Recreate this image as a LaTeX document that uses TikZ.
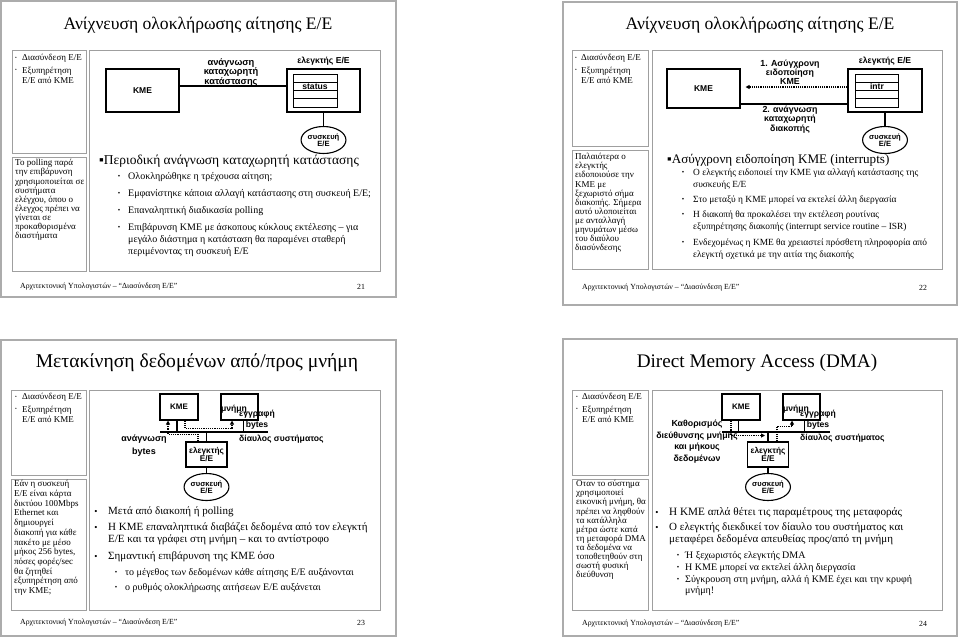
\documentclass[tikz,border=0pt]{standalone}
\usepackage{fontspec}
\setmainfont{Liberation Serif}
\setsansfont{Liberation Sans}
\usetikzlibrary{shapes.geometric,arrows.meta}

\begin{document}
\begin{tikzpicture}[x=1pt, y=-1pt,
    slide/.style={draw=gray!65, line width=1.2pt},
    panel/.style={draw=gray!75, line width=0.8pt},
    ttl/.style={inner sep=0pt, font=\fontsize{17.6}{20}\selectfont},
    unit/.style={draw, line width=1.1pt, inner sep=0pt, font=\sffamily\bfseries\fontsize{8.5}{8.5}\selectfont},
    dev/.style={ellipse, draw, line width=1.1pt, minimum width=39pt, minimum height=27pt, inner sep=0pt, align=center, font=\sffamily\bfseries\fontsize{7.6}{7.4}\selectfont},
    lbl/.style={inner sep=0pt, align=center, font=\sffamily\bfseries\fontsize{8.6}{8}\selectfont},
    reg/.style={line width=0.8pt},
    wire/.style={line width=1.1pt},
    bus/.style={line width=1.6pt},
    dotwire/.style={densely dotted, line width=1.2pt, -{Triangle[length=4pt,width=4pt]}},
    side/.style={anchor=west, align=left, inner sep=0pt, font=\fontsize{9}{9.1}\selectfont},
    txt/.style={anchor=west, align=left, inner sep=0pt},
    bul/.style={inner sep=0pt, font=\fontsize{7}{7}\selectfont},
    foot/.style={anchor=west, inner sep=0pt, font=\fontsize{7.8}{9}\selectfont}]
  \useasboundingbox (0,0) rectangle (960,638);

  % slide 21
  \draw[slide] (1,1) rectangle (396,297);
  \node[ttl] (t1) at (198,25) {Ανίχνευση ολοκλήρωσης αίτησης Ε/Ε};
  \draw[panel] (12,50) rectangle (86,153);
  \draw[panel] (12,157) rectangle (86,271);
  \draw[panel] (89,50) rectangle (380,271);
  \foreach \y [count=\i] in {58,70} \node[bul, font=\fontsize{5}{5}\selectfont] (l1-\i) at (16,\y) {•};
  \node[side] (l1a) at (22,58) {Διασύνδεση Ε/Ε};
  \node[side, font=\fontsize{9}{10}\selectfont] (l1b) at (22,75) {Εξυπηρέτηση\\Ε/Ε από ΚΜΕ};
  \node[side] (n1) at (15,200) {Το polling παρά\\την επιβάρυνση\\χρησιμοποιείται σε\\συστήματα\\ελέγχου, όπου ο\\έλεγχος πρέπει να\\γίνεται σε\\προκαθορισμένα\\διαστήματα};

  \node[unit, minimum width=73pt, minimum height=43pt] (kme1) at (142.5,90.5) {ΚΜΕ};
  \node[unit, minimum width=73pt, minimum height=43pt] (ctl1) at (323.5,90.5) {};
  \node[lbl, anchor=south] (ctl1t) at ([yshift=3pt]ctl1.north) {ελεγκτής Ε/Ε};
  \draw[reg] (293,74) rectangle (337,107);
  \foreach \y in {82.25,90.5,98.75} \draw[reg] (293,\y) -- (337,\y);
  \node[lbl] (st1) at (315,86.4) {status};
  \draw[wire] ([yshift=4.5pt]kme1.east) -- ([yshift=4.5pt]kme1.east -| ctl1.west);
  \node[lbl, font=\sffamily\bfseries\fontsize{9.3}{8.4}\selectfont] (rd1) at (231,72.5) {ανάγνωση\\καταχωρητή\\κατάστασης};
  \node[dev] (dv1) at (323.5,140) {συσκευή\\Ε/Ε};
  \draw[wire] (ctl1.south) -- (dv1.north);

  \node[txt, font=\fontsize{13.5}{16}\selectfont] (h1) at (99,161) {▪Περιοδική ανάγνωση καταχωρητή κατάστασης};
  \foreach \y [count=\i] in {177,194,211,228} \node[bul] (b1-\i) at (119,\y) {•};
  \node[txt, font=\fontsize{10}{12}\selectfont] (i1-1) at (128,177) {Ολοκληρώθηκε η τρέχουσα αίτηση;};
  \node[txt, font=\fontsize{10}{12}\selectfont] (i1-2) at (128,194) {Εμφανίστηκε κάποια αλλαγή κατάστασης στη συσκευή Ε/Ε;};
  \node[txt, font=\fontsize{10}{12}\selectfont] (i1-3) at (128,211) {Επαναληπτική διαδικασία polling};
  \node[txt, font=\fontsize{10}{12}\selectfont] (i1-4) at (128,240) {Επιβάρυνση ΚΜΕ με άσκοπους κύκλους εκτέλεσης – για\\μεγάλο διάστημα η κατάσταση θα παραμένει σταθερή\\περιμένοντας τη συσκευή Ε/Ε};
  \node[foot] (f1) at (20,287) {Αρχιτεκτονική Υπολογιστών – “Διασύνδεση Ε/Ε”};
  \node[foot, anchor=center] (p1) at (361,287) {21};

  % slide 22
  \draw[slide] (563,2) rectangle (957,305);
  \node[ttl] (t2) at (760,25) {Ανίχνευση ολοκλήρωσης αίτησης Ε/Ε};
  \draw[panel] (572,50) rectangle (648,146);
  \draw[panel] (572,150) rectangle (648,269);
  \draw[panel] (652,50) rectangle (942,269);
  \foreach \y [count=\i] in {58,70} \node[bul, font=\fontsize{5}{5}\selectfont] (l2-\i) at (576,\y) {•};
  \node[side] (l2a) at (581,58) {Διασύνδεση Ε/Ε};
  \node[side, font=\fontsize{9}{10}\selectfont] (l2b) at (581,75) {Εξυπηρέτηση\\Ε/Ε από ΚΜΕ};
  \node[side] (n2) at (575,203) {Παλαιότερα ο\\ελεγκτής\\ειδοποιούσε την\\ΚΜΕ με\\ξεχωριστό σήμα\\διακοπής. Σήμερα\\αυτό υλοποιείται\\με ανταλλαγή\\μηνυμάτων μέσω\\του διαύλου\\διασύνδεσης};

  \node[unit, minimum width=73pt, minimum height=39pt] (kme2) at (703.5,88.5) {ΚΜΕ};
  \node[unit, minimum width=74pt, minimum height=43pt] (ctl2) at (885,90.5) {};
  \node[lbl, anchor=south] (ctl2t) at ([yshift=3pt]ctl2.north) {ελεγκτής Ε/Ε};
  \draw[reg] (855,74) rectangle (898,107);
  \foreach \y in {82.25,90.5,98.75} \draw[reg] (855,\y) -- (898,\y);
  \node[lbl] (st2) at (877,86.4) {intr};
  \draw[dotwire] ([yshift=3.5pt]ctl2.west) -- ([yshift=3.5pt, xshift=5pt]ctl2.west -| kme2.east);
  \draw[wire] ([yshift=-15.5pt]kme2.east) -- ([yshift=-15.5pt]kme2.east -| ctl2.west);
  \node[lbl, font=\sffamily\bfseries\fontsize{8.8}{7.8}\selectfont] (in2) at (790,72.5) {1. Ασύγχρονη\\ειδοποίηση\\ΚΜΕ};
  \node[lbl, font=\sffamily\bfseries\fontsize{8.8}{7.8}\selectfont] (rd2) at (790,119.5) {2. ανάγνωση\\καταχωρητή\\διακοπής};
  \node[dev] (dv2) at (885,140) {συσκευή\\Ε/Ε};
  \draw[wire] (ctl2.south) -- (dv2.north);

  \node[txt, font=\fontsize{13.1}{16}\selectfont] (h2) at (667,160) {▪Ασύγχρονη ειδοποίηση ΚΜΕ (interrupts)};
  \foreach \y [count=\i] in {173,200,215,243} \node[bul] (b2-\i) at (683,\y) {•};
  \node[txt, font=\fontsize{9.4}{12}\selectfont] (i2-1) at (693,179) {Ο ελεγκτής ειδοποιεί την ΚΜΕ για αλλαγή κατάστασης της\\συσκευής Ε/Ε};
  \node[txt, font=\fontsize{9.4}{12}\selectfont] (i2-2) at (693,200) {Στο μεταξύ η ΚΜΕ μπορεί να εκτελεί άλλη διεργασία};
  \node[txt, font=\fontsize{9.4}{12}\selectfont] (i2-3) at (693,221) {Η διακοπή θα προκαλέσει την εκτέλεση ρουτίνας\\εξυπηρέτησης διακοπής (interrupt service routine – ISR)};
  \node[txt, font=\fontsize{9.4}{12}\selectfont] (i2-4) at (693,249) {Ενδεχομένως η ΚΜΕ θα χρειαστεί πρόσθετη πληροφορία από\\ελεγκτή σχετικά με την αιτία της διακοπής};
  \node[foot] (f2) at (582,288) {Αρχιτεκτονική Υπολογιστών – “Διασύνδεση Ε/Ε”};
  \node[foot, anchor=center] (p2) at (923,288) {22};

  % slide 23
  \draw[slide] (1,340) rectangle (396,636);
  \node[ttl, font=\fontsize{19.6}{22}\selectfont] (t3) at (197,363) {Μετακίνηση δεδομένων από/προς μνήμη};
  \draw[panel] (11,390) rectangle (86,475);
  \draw[panel] (11,479) rectangle (86,610);
  \draw[panel] (89,390) rectangle (380,610);
  \foreach \y [count=\i] in {397,409} \node[bul, font=\fontsize{5}{5}\selectfont] (l3-\i) at (16,\y) {•};
  \node[side] (l3a) at (22,397) {Διασύνδεση Ε/Ε};
  \node[side, font=\fontsize{9}{10}\selectfont] (l3b) at (22,414) {Εξυπηρέτηση\\Ε/Ε από ΚΜΕ};
  \node[side, font=\fontsize{9}{9.7}\selectfont] (n3) at (14,538) {Εάν η συσκευή\\Ε/Ε είναι κάρτα\\δικτύου 100Mbps\\Ethernet και\\δημιουργεί\\διακοπή για κάθε\\πακέτο με μέσο\\μήκος 256 bytes,\\πόσες φορές/sec\\θα ζητηθεί\\εξυπηρέτηση από\\την ΚΜΕ;};

  \node[unit, minimum width=38pt, minimum height=26pt, font=\sffamily\bfseries\fontsize{8}{8}\selectfont] (kme3) at (179,407) {ΚΜΕ};
  \node[unit, minimum width=37pt, minimum height=26pt] (mem3) at (239.5,407) {};
  \node[lbl] (mt3) at (234,409) {μνήμη};
  \node[unit, minimum width=41pt, minimum height=25pt, align=center, font=\sffamily\bfseries\fontsize{8.3}{8}\selectfont] (ctl3) at (206.5,454.5) {ελεγκτής\\Ε/Ε};
  \node[dev] (dv3) at (206.5,487) {συσκευή\\Ε/Ε};
  \coordinate (bl3) at (160,432);
  \coordinate (br3) at (268,432);
  \draw[bus] (bl3) -- (br3);
  \draw[wire] ([xshift=-2pt]kme3.south) -- ([xshift=-2pt]kme3.south |- bl3);
  \draw[wire] ([xshift=4pt]mem3.south) -- ([xshift=4pt]mem3.south |- bl3);
  \draw[wire] (ctl3.north) -- (ctl3.north |- bl3);
  \draw[wire] (ctl3.south) -- (dv3.north);
  \draw[dotwire] ([xshift=-8.5pt]ctl3.north) -- ++(0,-7) -| ([xshift=-11pt]kme3.south);
  \draw[dotwire] ([xshift=6pt]kme3.south) -- ++(0,8) -| ([xshift=-7.5pt]mem3.south);
  \node[lbl, font=\sffamily\bfseries\fontsize{8.6}{11}\selectfont] (wr3) at (257,419.5) {εγγραφή\\bytes};
  \node[lbl, font=\sffamily\bfseries\fontsize{9}{13}\selectfont] (rd3) at (144,445.5) {ανάγνωση\\bytes};
  \node[lbl, anchor=west] (bs3) at (239,439) {δίαυλος συστήματος};

  \foreach \y [count=\i] in {512,528,557} \node[bul, font=\fontsize{9}{9}\selectfont] (b3-\i) at (96,\y) {•};
  \foreach \y [count=\i] in {573,588} \node[bul] (c3-\i) at (116,\y) {•};
  \node[txt, font=\fontsize{11}{12.5}\selectfont] (i3-1) at (108,512) {Μετά από διακοπή ή polling};
  \node[txt, font=\fontsize{11}{12.5}\selectfont] (i3-2) at (108,534) {Η ΚΜΕ επαναληπτικά διαβάζει δεδομένα από τον ελεγκτή\\Ε/Ε και τα γράφει στη μνήμη – και το αντίστροφο};
  \node[txt, font=\fontsize{11}{12.5}\selectfont] (i3-3) at (108,557) {Σημαντική επιβάρυνση της ΚΜΕ όσο};
  \node[txt, font=\fontsize{10}{11}\selectfont] (j3-1) at (125,573) {το μέγεθος των δεδομένων κάθε αίτησης Ε/Ε αυξάνονται};
  \node[txt, font=\fontsize{10}{11}\selectfont] (j3-2) at (125,588) {ο ρυθμός ολοκλήρωσης αιτήσεων Ε/Ε αυξάνεται};
  \node[foot] (f3) at (20,623) {Αρχιτεκτονική Υπολογιστών – “Διασύνδεση Ε/Ε”};
  \node[foot, anchor=center] (p3) at (361,623) {23};

  % slide 24
  \draw[slide] (563,339) rectangle (957,636);
  \node[ttl, font=\fontsize{19.2}{22}\selectfont] (t4) at (757,363) {Direct Memory Access (DMA)};
  \draw[panel] (572,390) rectangle (648,475);
  \draw[panel] (572,479) rectangle (648,610);
  \draw[panel] (652,390) rectangle (942,610);
  \foreach \y [count=\i] in {397,409} \node[bul, font=\fontsize{5}{5}\selectfont] (l4-\i) at (577,\y) {•};
  \node[side] (l4a) at (582,397) {Διασύνδεση Ε/Ε};
  \node[side, font=\fontsize{9}{10}\selectfont] (l4b) at (582,414) {Εξυπηρέτηση\\Ε/Ε από ΚΜΕ};
  \node[side] (n4) at (576,530) {Οταν το σύστημα\\χρησιμοποιεί\\εικονική μνήμη, θα\\πρέπει να ληφθούν\\τα κατάλληλα\\μέτρα ώστε κατά\\τη μεταφορά DMA\\τα δεδομένα να\\τοποθετηθούν στη\\σωστή φυσική\\διεύθυνση};

  \node[unit, minimum width=38pt, minimum height=26pt, font=\sffamily\bfseries\fontsize{8}{8}\selectfont] (kme4) at (741,407) {ΚΜΕ};
  \node[unit, minimum width=37pt, minimum height=26pt] (mem4) at (801.5,407) {};
  \node[lbl] (mt4) at (796,409) {μνήμη};
  \node[unit, minimum width=41pt, minimum height=25pt, align=center, font=\sffamily\bfseries\fontsize{8.3}{8}\selectfont] (ctl4) at (768,454.5) {ελεγκτής\\Ε/Ε};
  \node[dev] (dv4) at (768,487) {συσκευή\\Ε/Ε};
  \coordinate (bl4) at (722,432);
  \coordinate (br4) at (830,432);
  \draw[bus] (bl4) -- (br4);
  \draw[wire] ([xshift=-2.5pt]kme4.south) -- ([xshift=-2.5pt]kme4.south |- bl4);
  \draw[wire] ([xshift=3pt]mem4.south) -- ([xshift=3pt]mem4.south |- bl4);
  \draw[wire] (ctl4.north) -- (ctl4.north |- bl4);
  \draw[wire] (ctl4.south) -- (dv4.north);
  \coordinate (j4) at (ctl4.north |- bl4);
  \draw[dotwire] ([xshift=-10pt]kme4.south) |- ([shift={(-3pt,-3.5pt)}]j4);
  \draw[dotwire] ([xshift=9pt]ctl4.north) -- ++(0,-15) -| ([xshift=-9.5pt]mem4.south);
  \node[lbl, font=\sffamily\bfseries\fontsize{8.6}{11}\selectfont] (wr4) at (818,419.5) {εγγραφή\\bytes};
  \node[lbl, font=\sffamily\bfseries\fontsize{8.8}{11.7}\selectfont] (ad4) at (697,441.5) {Καθορισμός\\διεύθυνσης μνήμης\\και μήκους\\δεδομένων};
  \node[lbl, anchor=west] (bs4) at (800,438) {δίαυλος συστήματος};

  \foreach \y [count=\i] in {513,528} \node[bul, font=\fontsize{9}{9}\selectfont] (b4-\i) at (657,\y) {•};
  \foreach \y [count=\i] in {556,568,580} \node[bul] (c4-\i) at (678,\y) {•};
  \node[txt, font=\fontsize{11.2}{12.5}\selectfont] (i4-1) at (669,513) {Η ΚΜΕ απλά θέτει τις παραμέτρους της μεταφοράς};
  \node[txt, font=\fontsize{11}{12.5}\selectfont] (i4-2) at (669,534) {Ο ελεγκτής διεκδικεί τον δίαυλο του συστήματος και\\μεταφέρει δεδομένα απευθείας προς/από τη μνήμη};
  \node[txt, font=\fontsize{10}{11}\selectfont] (j4-1) at (685,556) {Ή ξεχωριστός ελεγκτής DMA};
  \node[txt, font=\fontsize{10}{11}\selectfont] (j4-2) at (685,568) {Η ΚΜΕ μπορεί να εκτελεί άλλη διεργασία};
  \node[txt, font=\fontsize{10}{11}\selectfont] (j4-3) at (685,585.5) {Σύγκρουση στη μνήμη, αλλά ή ΚΜΕ έχει και την κρυφή\\μνήμη!};
  \node[foot] (f4) at (582,624) {Αρχιτεκτονική Υπολογιστών – “Διασύνδεση Ε/Ε”};
  \node[foot, anchor=center] (p4) at (923,624) {24};
\end{tikzpicture}
\end{document}
